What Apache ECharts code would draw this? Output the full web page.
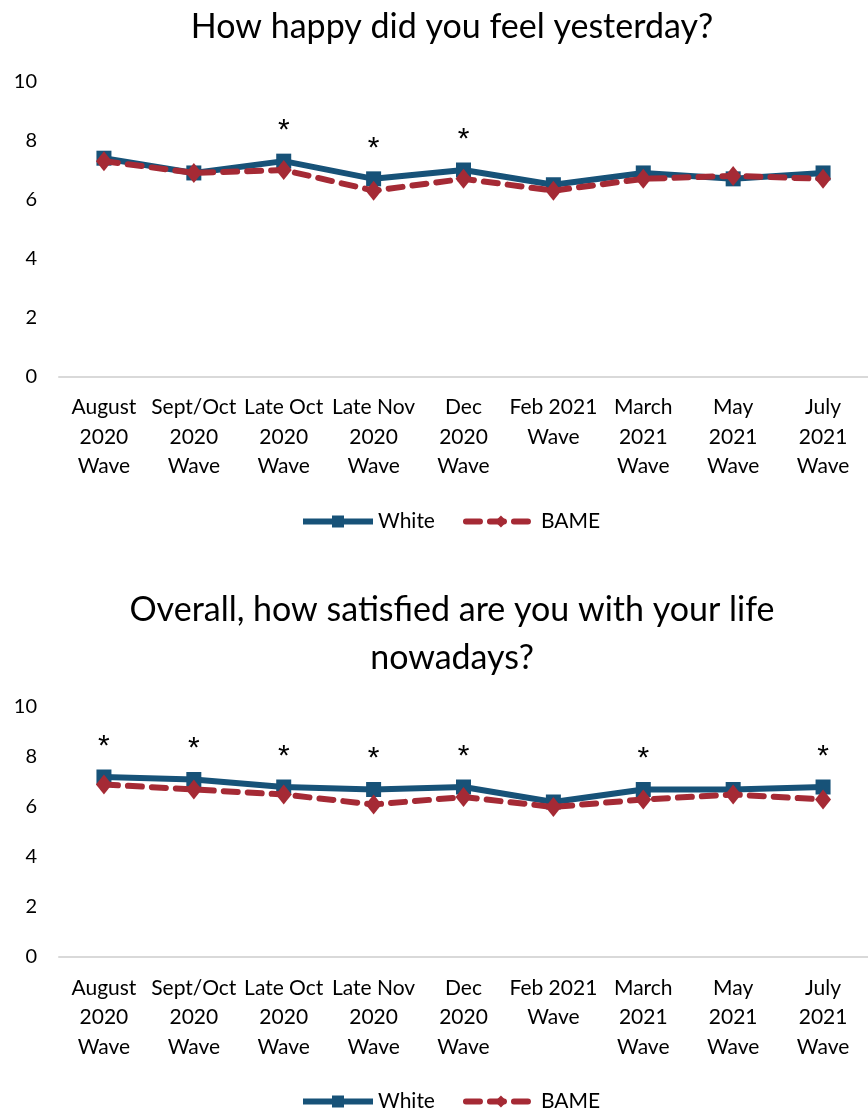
<!DOCTYPE html>
<html>
<head>
<meta charset="utf-8">
<script src="https://cdn.jsdelivr.net/npm/echarts@6/dist/echarts.min.js"></script>
<style>
html,body{margin:0;padding:0;background:#fff;}
#c{width:868px;height:1111px;}
</style>
</head>
<body>
<div id="c"></div>
<script>
var categories = ["August\n2020\nWave","Sept/Oct\n2020\nWave","Late Oct\n2020\nWave","Late Nov\n2020\nWave","Dec\n2020\nWave","Feb 2021\nWave","March\n2021\nWave","May\n2021\nWave","July\n2021\nWave"];
var happyWhite = [7.4, 6.9, 7.3, 6.7, 7.0, 6.5, 6.9, 6.7, 6.9];
var happyBame  = [7.3, 6.9, 7.0, 6.3, 6.7, 6.3, 6.7, 6.8, 6.7];
var happySig   = [0, 0, 1, 1, 1, 0, 0, 0, 0];
var satWhite = [7.2, 7.1, 6.8, 6.7, 6.8, 6.2, 6.7, 6.7, 6.8];
var satBame  = [6.9, 6.7, 6.5, 6.1, 6.4, 6.0, 6.3, 6.5, 6.3];
var satSig   = [1, 1, 1, 1, 1, 0, 1, 0, 1];
var yTicks = [0, 2, 4, 6, 8, 10];
var titles = ["How happy did you feel yesterday?", "Overall, how satisfied are you with your life\nnowadays?"];

var FONT = 'Lato';
var BLUE = '#175278';
var RED = '#A52A35';

function xAxis(gi){
  return {
    type:'category', gridIndex: gi, data: categories, boundaryGap: true,
    axisLine:{show:true, lineStyle:{color:'#D9D9D9', width:2}},
    axisTick:{show:false},
    axisLabel:{interval:0, color:'#000', fontFamily:FONT, fontSize:21, lineHeight:29.5, margin:16}
  };
}
function yAxis(gi){
  return {
    type:'value', gridIndex: gi, min: yTicks[0], max: yTicks[yTicks.length-1], interval: 2,
    axisLine:{show:false}, axisTick:{show:false}, splitLine:{show:false},
    axisLabel:{color:'#000', fontFamily:FONT, fontSize:20, margin:22}
  };
}
function whiteSeries(gi, data, sig){
  return {
    name:'White', type:'line', xAxisIndex: gi, yAxisIndex: gi, data: data,
    symbol:'rect', symbolSize:15,
    lineStyle:{color:BLUE, width:6}, itemStyle:{color:BLUE},
    label:{show:true, position:'top', distance:8, color:'#000', fontFamily:'Liberation Sans', fontSize:30,
      formatter:function(p){ return sig[p.dataIndex] ? '*' : ''; }},
    z: 2
  };
}
function bameSeries(gi, data){
  return {
    name:'BAME', type:'line', xAxisIndex: gi, yAxisIndex: gi, data: data,
    symbol:'diamond', symbolSize:[16,20],
    lineStyle:{color:RED, width:6, type:[14,10], cap:'round'}, itemStyle:{color:RED},
    z: 3
  };
}
function legend(top){
  return {data:['White','BAME'], top:top, left:295, itemWidth:70, itemHeight:15, itemGap:28,
    lineStyle:{width:6}, textStyle:{fontFamily:FONT, fontSize:21, color:'#000'}};
}

var chart = echarts.init(document.getElementById('c'), null, {renderer:'canvas'});
chart.setOption({
  animation:false,
  backgroundColor:'#fff',
  title:[
    {text:titles[0], left:447, textAlign:'center', top:5,
     textStyle:{fontFamily:FONT, fontSize:34, fontWeight:'normal', color:'#000'}},
    {text:titles[1], left:447, textAlign:'center', top:581,
     textStyle:{fontFamily:FONT, fontSize:34, fontWeight:'normal', color:'#000', lineHeight:48}}
  ],
  legend:[legend(506), legend(1086)],
  grid:[
    {left:59, width:810, top:81.5, height:295},
    {left:59, width:810, top:707, height:250}
  ],
  xAxis:[xAxis(0), xAxis(1)],
  yAxis:[yAxis(0), yAxis(1)],
  series:[
    whiteSeries(0, happyWhite, happySig), bameSeries(0, happyBame),
    whiteSeries(1, satWhite, satSig), bameSeries(1, satBame)
  ]
});
</script>
</body>
</html>
